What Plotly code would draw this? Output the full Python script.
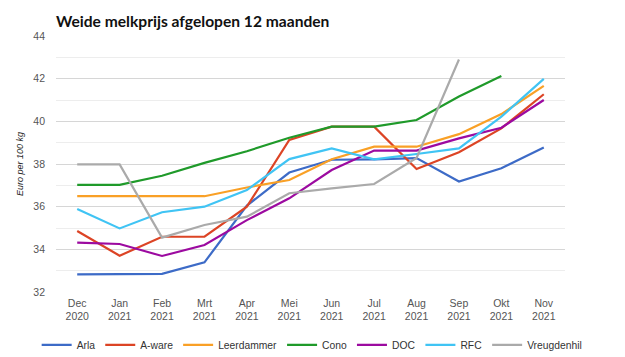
import plotly.graph_objects as go

months = ["Dec<br>2020", "Jan<br>2021", "Feb<br>2021", "Mrt<br>2021", "Apr<br>2021", "Mei<br>2021",
          "Jun<br>2021", "Jul<br>2021", "Aug<br>2021", "Sep<br>2021", "Okt<br>2021", "Nov<br>2021"]

arla        = [32.83, 32.85, 32.85, 33.39, 36.05, 37.60, 38.20, 38.22, 38.28, 37.18, 37.80, 38.77]
a_ware      = [34.86, 33.70, 34.59, 34.59, 36.00, 39.13, 39.75, 39.75, 37.77, 38.55, 39.67, 41.27]
leerdammer  = [36.49, 36.49, 36.49, 36.49, 36.90, 37.25, 38.22, 38.81, 38.81, 39.40, 40.34, 41.66]
cono        = [37.02, 37.02, 37.45, 38.05, 38.60, 39.23, 39.75, 39.75, 40.06, 41.16, 42.13, None]
doc         = [34.31, 34.25, 33.69, 34.20, 35.37, 36.39, 37.72, 38.63, 38.63, 39.20, 39.70, 41.00]
rfc         = [35.89, 34.98, 35.74, 36.00, 36.78, 38.23, 38.73, 38.22, 38.47, 38.73, 40.22, 41.99]
vreugdenhil = [37.98, 37.98, 34.55, 35.14, 35.53, 36.63, 36.86, 37.06, 38.28, 42.90, None, None]

series = [
    ("Arla", arla, "#3d6bc7"),
    ("A-ware", a_ware, "#dc4425"),
    ("Leerdammer", leerdammer, "#f9a026"),
    ("Cono", cono, "#1f9a2a"),
    ("DOC", doc, "#9c0aa0"),
    ("RFC", rfc, "#40c4f4"),
    ("Vreugdenhil", vreugdenhil, "#aaaaaa"),
]

fig = go.Figure()
for name, vals, color in series:
    fig.add_trace(go.Scatter(x=months, y=vals, name=name, mode="lines",
                             line=dict(color=color, width=2.2)))

# The page body adds an 8px offset, so the figure is 8px smaller than the window.
fig.update_layout(
    width=617, height=349,
    margin=dict(l=48, r=60, t=28, b=65, autoexpand=False),
    paper_bgcolor="white", plot_bgcolor="white",
    title=dict(text="<b>Weide melkprijs afgelopen 12 maanden</b>",
               font=dict(family="Lato", size=15.6, color="#111"),
               x=0, xanchor="left", xref="paper", y=1-14/349, yanchor="middle"),
    font=dict(family="Liberation Sans, Arial", size=11, color="#555"),
    showlegend=True,
    legend=dict(orientation="h", x=-0.038, xanchor="left", y=-0.15, yanchor="top",
                font=dict(family="Liberation Sans, Arial", size=10.3, color="#333")),
)
fig.update_xaxes(type="category", range=[-0.5, 11.5], showgrid=False, showline=False,
                 ticks="", automargin=False, ticklabelstandoff=3,
                 tickfont=dict(size=10.5, color="#555"))
fig.update_yaxes(range=[32, 44], dtick=2, showgrid=True, gridcolor="#d6d6d6", gridwidth=1,
                 zeroline=False, showline=False, ticks="", automargin=False,
                 ticklabelstandoff=10,
                 tickfont=dict(size=10.5, color="#555"),
                 minor=dict(dtick=1, showgrid=True, gridcolor="#ededed", gridwidth=1),
                 title=dict(text="<i>Euro per 100 kg</i>", font=dict(size=9, color="#222"),
                            standoff=8))

fig.write_html("out.html")
